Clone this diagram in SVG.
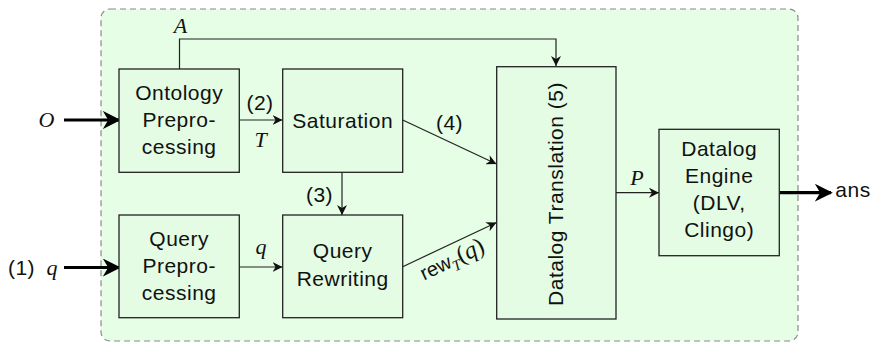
<svg xmlns="http://www.w3.org/2000/svg" width="875" height="346" viewBox="0 0 875 346">
<style>
.box{fill:#e3fce3;stroke:#222;stroke-width:1.3}
.t{font-family:"Liberation Sans",Arial,sans-serif;font-size:21px;fill:#111;text-anchor:middle;letter-spacing:0.5px}
.m{font-family:"Liberation Serif","Times New Roman",serif;font-style:italic;font-size:22px;fill:#111;text-anchor:middle}
.c{fill:none;stroke:#222;stroke-width:1.2}
.thick{fill:none;stroke:#000;stroke-width:3.2}
</style>
<defs>
<marker id="ah" viewBox="0 0 10 10" refX="10" refY="5" markerWidth="10" markerHeight="10" markerUnits="userSpaceOnUse" orient="auto">
<path d="M0,0 L10,5 L0,10 L3,5 Z" fill="#111"/>
</marker>
<marker id="ahT" viewBox="0 0 10 10" refX="9" refY="5" markerWidth="18" markerHeight="18" markerUnits="userSpaceOnUse" orient="auto">
<path d="M0,0 L10,5 L0,10 L3,5 Z" fill="#000"/>
</marker>
</defs>
<rect id="container" x="101" y="9" width="697" height="332" rx="9" fill="#e6fde6" stroke="#8a8a8a" stroke-width="1.2" stroke-dasharray="6 4"/>
<g id="connectors">
<path class="c" d="M179.5,69 V39 H556 V66" marker-end="url(#ah)"/>
<path class="c" d="M239,120 H282.5" marker-end="url(#ah)"/>
<path class="c" d="M342,172 V215" marker-end="url(#ah)"/>
<path class="c" d="M239,267 H282.5" marker-end="url(#ah)"/>
<path class="c" d="M402.7,120 L496.5,164" marker-end="url(#ah)"/>
<path class="c" d="M402.7,266.7 L496.5,222.5" marker-end="url(#ah)"/>
<path class="c" d="M616,192.7 H659" marker-end="url(#ah)"/>
<path class="thick" d="M64,120 H119" marker-end="url(#ahT)"/>
<path class="thick" d="M64,267.5 H119" marker-end="url(#ahT)"/>
<path class="thick" d="M779.5,192.7 H831" marker-end="url(#ahT)"/>
</g>
<g id="labels">
<text class="m" x="180.5" y="33">A</text>
<text class="m" x="46.5" y="127">O</text>
<text class="t" x="21.5" y="275">(1)</text>
<text class="m" x="52" y="275">q</text>
<text class="t" x="260" y="110">(2)</text>
<text class="m" x="260.5" y="147">T</text>
<text class="m" x="261" y="254">q</text>
<text class="t" x="319.5" y="202">(3)</text>
<text class="t" x="449.5" y="130">(4)</text>
<g transform="translate(455,266) rotate(-25.2)">
<text x="0" y="0" text-anchor="middle"><tspan font-family="Liberation Sans, Arial, sans-serif" font-size="20" fill="#111">rew</tspan><tspan font-family="Liberation Serif, serif" font-style="italic" font-size="15" dy="5" fill="#111">T</tspan><tspan font-family="Liberation Serif, serif" font-size="24" dy="-5" fill="#111">(</tspan><tspan font-family="Liberation Serif, serif" font-style="italic" font-size="24" fill="#111">q</tspan><tspan font-family="Liberation Serif, serif" font-size="24" fill="#111">)</tspan></text>
</g>
<text class="m" x="637" y="185">P</text>
<text class="t" x="853" y="197">ans</text>
</g>
<g id="ontology-preprocessing">
<rect class="box" x="119" y="69" width="120.3" height="103.3"/>
<text class="t" x="179.2" y="100">Ontology</text>
<text class="t" x="179.2" y="127">Prepro-</text>
<text class="t" x="179.2" y="154">cessing</text>
</g>
<g id="saturation">
<rect class="box" x="282.7" y="69" width="120" height="103.3"/>
<text class="t" x="342.7" y="128">Saturation</text>
</g>
<g id="query-preprocessing">
<rect class="box" x="119" y="215" width="120.3" height="102.7"/>
<text class="t" x="179.2" y="246">Query</text>
<text class="t" x="179.2" y="273">Prepro-</text>
<text class="t" x="179.2" y="300">cessing</text>
</g>
<g id="query-rewriting">
<rect class="box" x="282.7" y="215" width="120" height="102.7"/>
<text class="t" x="342.7" y="258">Query</text>
<text class="t" x="342.7" y="286">Rewriting</text>
</g>
<g id="datalog-translation">
<rect class="box" x="496.7" y="66.7" width="119.3" height="252.3"/>
<text class="t" transform="translate(563,194) rotate(-90)" x="0" y="0">Datalog Translation (5)</text>
</g>
<g id="datalog-engine">
<rect class="box" x="659" y="129.3" width="120.3" height="126.4"/>
<text class="t" x="719.2" y="156">Datalog</text>
<text class="t" x="719.2" y="183">Engine</text>
<text class="t" x="719.2" y="210">(DLV,</text>
<text class="t" x="719.2" y="237">Clingo)</text>
</g>
</svg>
